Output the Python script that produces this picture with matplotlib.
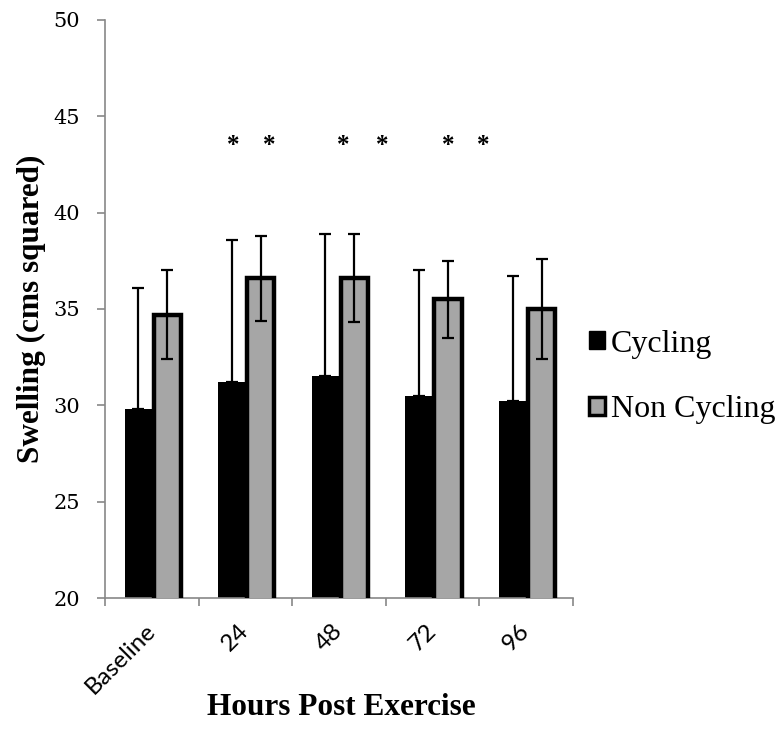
import matplotlib
matplotlib.use("Agg")
import matplotlib.pyplot as plt
from matplotlib.patches import Patch
import matplotlib.transforms as mtransforms
import numpy as np

categories = ["Baseline", "24", "48", "72", "96"]
cycling = [29.8, 31.2, 31.5, 30.5, 30.2]
cycling_sd = [6.3, 7.4, 7.4, 6.5, 6.5]
non_cycling = [34.7, 36.6, 36.6, 35.5, 35.0]
non_cycling_sd = [2.3, 2.2, 2.3, 2.0, 2.6]
significant = [False, True, True, True, False]
star_level = 43.5

fig = plt.figure(figsize=(7.8, 7.45), dpi=100)
ax = fig.add_axes([0.1346, 0.1973, 0.6, 0.776])

x = np.arange(len(categories))
w = 0.29
gray = "#a6a6a6"

ax.bar(x - w / 2, cycling, w, color="black", edgecolor="black",
       linewidth=0, zorder=2)
ax.bar(x + w / 2 + 0.02, non_cycling, w, color=gray, edgecolor="black",
       linewidth=3.2, zorder=3)

# cycling: only the upper whisker shows above the black bar
ax.errorbar(x - w / 2, cycling, yerr=[np.zeros(len(x)), cycling_sd], fmt="none",
            ecolor="black", elinewidth=1.6, capsize=4.5, capthick=1.6, zorder=4)
ax.errorbar(x + w / 2 + 0.02, non_cycling, yerr=non_cycling_sd, fmt="none",
            ecolor="black", elinewidth=1.6, capsize=4.5, capthick=1.6, zorder=4)

# significance markers, typed as a pair of asterisks above each flagged group
star_offsets = {1: (-0.13, 0.25), 2: (0.04, 0.46), 3: (0.165, 0.54)}
for i, sig in enumerate(significant):
    if sig:
        for dx in star_offsets.get(i, (-w / 2, w / 2)):
            ax.text(i + dx, star_level, "*", ha="center", va="center",
                    fontsize=18, fontweight="bold", family="Liberation Serif")

ax.set_xlim(-0.5, len(categories) - 0.5)
ax.set_ylim(20, 50)
ax.set_yticks(range(20, 51, 5))
ax.set_yticklabels([str(v) for v in range(20, 51, 5)],
                   family="DejaVu Serif", fontsize=15)

ax.set_xticks(x)
ax.set_xticklabels(categories, rotation=45, ha="right", va="center",
                   rotation_mode="anchor", family="Lato", fontsize=17.5)
shift = mtransforms.ScaledTranslation(6 / 100, 0, fig.dpi_scale_trans)
for lbl in ax.get_xticklabels():
    lbl.set_transform(lbl.get_transform() + shift)
ax.tick_params(axis="x", length=0, pad=21)
ax.set_xticks(np.arange(-0.5, len(categories)), minor=True)
ax.tick_params(axis="x", which="minor", length=6, color="#888888", width=1.2)
ax.tick_params(axis="y", length=6, color="#888888", width=1.2, pad=12)

for s in ("top", "right"):
    ax.spines[s].set_visible(False)
for s in ("left", "bottom"):
    ax.spines[s].set_color("#888888")
    ax.spines[s].set_linewidth(1.2)

ax.set_ylabel("Swelling (cms squared)", family="Liberation Serif",
              fontweight="bold", fontsize=22.5, labelpad=5)
fig.text(0.437, 0.05, "Hours Post Exercise", family="Liberation Serif",
         fontweight="bold", fontsize=22.5, ha="center", va="center")

handles = [Patch(facecolor="black", edgecolor="black", label="Cycling"),
           Patch(facecolor=gray, edgecolor="black", linewidth=2.5, label="Non Cycling")]
fig.legend(handles=handles, loc="center left", bbox_to_anchor=(0.718, 0.494),
           frameon=False, prop={"family": "Liberation Serif", "size": 23},
           handlelength=0.5, handleheight=0.5, handletextpad=0.2,
           labelspacing=1.15)

fig.savefig("out.png", dpi=100)
